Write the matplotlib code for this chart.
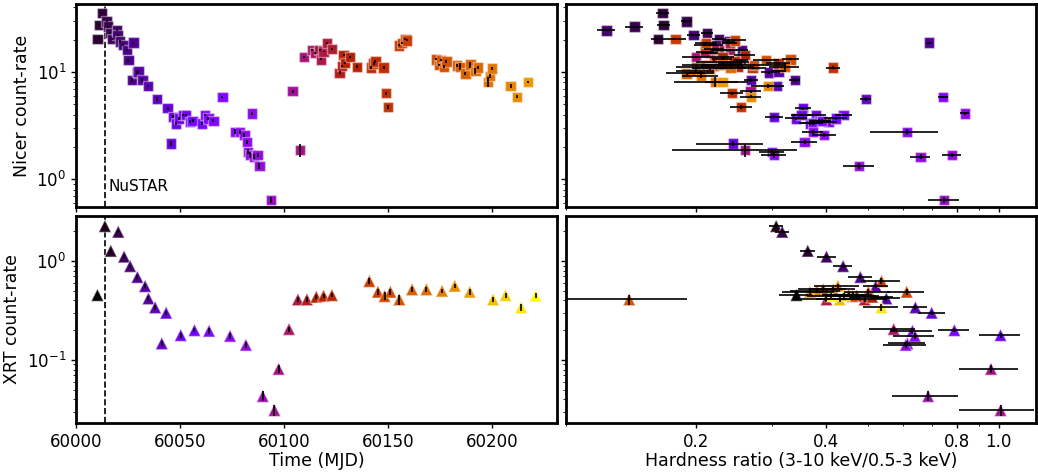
import numpy as np
import matplotlib.pyplot as plt
from matplotlib.colors import Normalize
from matplotlib.ticker import FixedLocator, NullFormatter

# NICER: time (MJD), count-rate, rate error, hardness ratio, HR error
nicer_t = [60010.4, 60011.1, 60012.4, 60014.7, 60015.5, 60016.3, 60017.2, 60019.6, 60020.0, 60021.2,
           60022.8, 60024.4, 60025.2, 60026.8, 60027.6, 60029.2, 60030.0, 60031.9, 60034.5, 60038.8,
           60044.0, 60045.5, 60046.8, 60047.9, 60049.5, 60051.6, 60053.0, 60054.8, 60056.0, 60060.4,
           60062.0, 60063.6, 60066.0, 60070.3, 60076.4, 60078.8, 60080.9, 60082.1, 60082.5, 60083.7,
           60084.5, 60085.6, 60087.2, 60088.1, 60093.8, 60104.0, 60107.7, 60109.6, 60113.3, 60114.9,
           60117.0, 60117.8, 60118.9, 60120.5, 60122.8, 60126.6, 60127.7, 60128.5, 60129.3, 60131.7,
           60134.9, 60141.7, 60142.9, 60143.8, 60147.7, 60148.9, 60149.8, 60155.0, 60156.6, 60158.2,
           60159.0, 60172.9, 60174.2, 60175.3, 60176.9, 60177.9, 60183.0, 60184.6, 60187.0, 60189.4,
           60191.8, 60192.9, 60197.9, 60198.7, 60199.9, 60208.7, 60211.9, 60217.0]
nicer_rate = [20.2, 27.4, 35.4, 29.6, 26.5, 23.0, 20.2, 24.4, 22.2, 19.2,
              17.9, 16.0, 12.9, 8.4, 18.8, 9.9, 10.1, 8.4, 7.4, 5.6,
              4.6, 2.15, 3.82, 3.31, 3.69, 3.97, 3.97, 3.43, 3.5, 3.31,
              3.97, 3.69, 3.5, 5.87, 2.77, 2.77, 2.58, 2.23, 1.80, 1.68,
              4.1, 1.62, 1.68, 1.33, 0.636, 6.6, 1.87, 13.8, 16.0, 15.1,
              16.0, 13.1, 15.5, 18.5, 16.3, 9.8, 11.4, 14.4, 12.1, 13.7,
              11.2, 10.98, 12.0, 12.5, 11.0, 6.36, 4.74, 17.7, 18.5, 20.2,
              19.7, 13.1, 11.6, 12.9, 11.2, 12.5, 11.5, 11.2, 9.7, 11.7,
              10.2, 11.0, 8.1, 9.2, 10.8, 7.45, 5.87, 8.1]
nicer_rate_err = [0.5, 0.6, 0.7, 0.6, 0.6, 0.5, 0.5, 0.5, 0.5, 0.5,
                  0.4, 0.4, 0.4, 0.3, 0.4, 0.3, 0.3, 0.3, 0.2, 0.2,
                  0.15, 0.1, 0.12, 0.12, 0.12, 0.12, 0.12, 0.12, 0.12, 0.12,
                  0.12, 0.12, 0.12, 0.15, 0.15, 0.12, 0.1, 0.1, 0.1, 0.1,
                  0.15, 0.08, 0.08, 0.08, 0.04, 0.2, 0.25, 0.3, 0.3, 0.3,
                  0.3, 0.3, 0.3, 0.4, 0.3, 0.3, 0.3, 0.3, 0.3, 0.3,
                  0.3, 0.3, 0.5, 0.4, 0.3, 0.2, 0.2, 0.4, 0.4, 0.4,
                  0.4, 0.3, 0.3, 0.3, 0.3, 0.3, 0.3, 0.8, 0.3, 0.8,
                  0.6, 0.3, 0.8, 0.4, 0.3, 0.3, 0.2, 0.2]
nicer_hr = [0.163, 0.168, 0.167, 0.190, 0.144, 0.212, 0.226, 0.124, 0.197, 0.238,
            0.222, 0.255, 0.254, 0.338, 0.690, 0.295, 0.310, 0.268, 0.307, 0.493,
            0.353, 0.243, 0.303, 0.366, 0.340, 0.350, 0.378, 0.404, 0.385, 0.372,
            0.438, 0.420, 0.390, 0.743, 0.614, 0.372, 0.395, 0.356, 0.299, 0.303,
            0.836, 0.660, 0.780, 0.476, 0.748, 0.267, 0.259, 0.200, 0.239, 0.215,
            0.225, 0.230, 0.210, 0.239, 0.220, 0.205, 0.220, 0.259, 0.240, 0.230,
            0.250, 0.270, 0.310, 0.245, 0.414, 0.242, 0.254, 0.210, 0.211, 0.179,
            0.246, 0.330, 0.272, 0.290, 0.200, 0.220, 0.210, 0.320, 0.190, 0.230,
            0.200, 0.240, 0.221, 0.205, 0.215, 0.293, 0.268, 0.230]
nicer_hr_err = [0.006, 0.006, 0.006, 0.006, 0.007, 0.007, 0.008, 0.006, 0.007, 0.008,
                0.008, 0.008, 0.009, 0.010, 0.010, 0.012, 0.012, 0.010, 0.012, 0.015,
                0.015, 0.043, 0.015, 0.020, 0.020, 0.018, 0.020, 0.020, 0.020, 0.020,
                0.020, 0.025, 0.020, 0.020, 0.110, 0.020, 0.025, 0.025, 0.020, 0.020,
                0.020, 0.035, 0.040, 0.040, 0.060, 0.015, 0.083, 0.015, 0.010, 0.010,
                0.010, 0.012, 0.010, 0.010, 0.012, 0.015, 0.015, 0.015, 0.015, 0.015,
                0.020, 0.020, 0.020, 0.020, 0.015, 0.015, 0.015, 0.012, 0.012, 0.010,
                0.015, 0.015, 0.050, 0.020, 0.020, 0.020, 0.025, 0.025, 0.020, 0.025,
                0.020, 0.020, 0.043, 0.020, 0.020, 0.025, 0.015, 0.020]

# Swift/XRT
xrt_t = [60010.3, 60013.9, 60016.7, 60020.3, 60023.1, 60026.0, 60029.5, 60033.2, 60034.8, 60038.0,
         60041.2, 60043.3, 60050.3, 60056.9, 60063.9, 60074.0, 60081.6, 60089.7, 60095.3, 60097.3,
         60102.3, 60106.6, 60110.9, 60115.4, 60118.9, 60122.9, 60140.9, 60145.0, 60148.2, 60151.0,
         60155.3, 60161.4, 60168.3, 60175.8, 60181.9, 60189.1, 60200.3, 60206.3, 60213.8, 60220.7]
xrt_rate = [0.453, 2.26, 1.27, 1.98, 1.11, 0.89, 0.69, 0.558, 0.419, 0.34,
            0.147, 0.30, 0.178, 0.20, 0.197, 0.175, 0.142, 0.043, 0.031, 0.081,
            0.205, 0.409, 0.409, 0.435, 0.445, 0.452, 0.627, 0.489, 0.442, 0.489,
            0.409, 0.517, 0.517, 0.50, 0.562, 0.489, 0.409, 0.452, 0.34, 0.445]
xrt_rate_err = [0.02, 0.08, 0.05, 0.07, 0.04, 0.03, 0.03, 0.025, 0.02, 0.02,
                0.01, 0.015, 0.01, 0.01, 0.012, 0.012, 0.01, 0.005, 0.004, 0.008,
                0.012, 0.02, 0.02, 0.02, 0.02, 0.02, 0.04, 0.03, 0.04, 0.03,
                0.05, 0.025, 0.025, 0.025, 0.025, 0.03, 0.025, 0.025, 0.025, 0.025]
xrt_hr = [0.341, 0.306, 0.362, 0.316, 0.400, 0.437, 0.479, 0.520, 0.550, 0.642,
          0.615, 0.700, 1.010, 0.790, 0.632, 0.640, 0.610, 0.687, 1.010, 0.960,
          0.572, 0.400, 0.490, 0.510, 0.470, 0.450, 0.536, 0.613, 0.460, 0.500,
          0.140, 0.393, 0.415, 0.380, 0.425, 0.366, 0.429, 0.440, 0.536, 0.410]
xrt_hr_err = [0.03, 0.012, 0.015, 0.012, 0.02, 0.022, 0.03, 0.035, 0.04, 0.04,
              0.06, 0.05, 0.11, 0.065, 0.07, 0.07, 0.07, 0.12, 0.2, 0.15,
              0.07, 0.05, 0.06, 0.06, 0.06, 0.06, 0.055, 0.06, 0.06, 0.06,
              0.05, 0.05, 0.05, 0.05, 0.05, 0.05, 0.05, 0.05, 0.05, 0.05]

nustar_t = 60013.9

cmap = plt.get_cmap('gnuplot')
norm_xrt = Normalize(vmin=60010.3, vmax=60220.7)
norm_nicer = Normalize(vmin=60002, vmax=60258)

plt.rcParams['font.size'] = 12
plt.rcParams['axes.linewidth'] = 2

fig = plt.figure(figsize=(10.38, 4.72), dpi=100)
ax_tl = fig.add_axes([0.0732, 0.5614, 0.4634, 0.4301])
ax_bl = fig.add_axes([0.0732, 0.1038, 0.4634, 0.4386], sharex=ax_tl)
ax_tr = fig.add_axes([0.5453, 0.5614, 0.4528, 0.4301], sharey=ax_tl)
ax_br = fig.add_axes([0.5453, 0.1038, 0.4528, 0.4386], sharey=ax_bl, sharex=ax_tr)


def draw(ax, x, y, xerr, yerr, t, norm, marker, size):
    ax.errorbar(x, y, xerr=xerr, yerr=yerr, fmt='none', ecolor='k', elinewidth=1.2, zorder=3)
    ax.scatter(x, y, c=t, cmap=cmap, norm=norm, marker=marker, s=size,
               edgecolors=(1, 1, 1, 0.4), linewidths=1, zorder=2)


draw(ax_tl, nicer_t, nicer_rate, None, nicer_rate_err, nicer_t, norm_nicer, 's', 55)
draw(ax_tr, nicer_hr, nicer_rate, nicer_hr_err, nicer_rate_err, nicer_t, norm_nicer, 's', 55)
draw(ax_bl, xrt_t, xrt_rate, None, xrt_rate_err, xrt_t, norm_xrt, '^', 80)
draw(ax_br, xrt_hr, xrt_rate, xrt_hr_err, xrt_rate_err, xrt_t, norm_xrt, '^', 80)

for ax in (ax_tl, ax_bl):
    ax.axvline(nustar_t, color='k', ls='--', lw=1.2, zorder=1)
ax_tl.text(nustar_t + 1.5, 0.86, 'NuSTAR', va='center', ha='left', fontsize=11)

ax_tl.set_yscale('log')
ax_bl.set_yscale('log')
ax_tl.set_ylim(0.55, 43)
ax_bl.set_ylim(0.023, 2.86)
ax_tl.set_xlim(60000, 60231)

ax_tr.set_xscale('log')
ax_tr.set_xlim(0.1, 1.22)
ax_br.xaxis.set_major_locator(FixedLocator([0.2, 0.4, 0.8, 1.0]))
ax_br.xaxis.set_major_formatter(plt.FixedFormatter(['0.2', '0.4', '0.8', '1.0']))
ax_br.xaxis.set_minor_locator(FixedLocator([0.1, 0.3, 0.5, 0.6, 0.7, 0.9]))
ax_br.xaxis.set_minor_formatter(NullFormatter())

plt.setp(ax_tl.get_xticklabels(), visible=False)
plt.setp(ax_tr.get_xticklabels(), visible=False)
plt.setp(ax_tr.get_yticklabels(), visible=False)
plt.setp(ax_br.get_yticklabels(), visible=False)

ax_tl.set_ylabel('Nicer count-rate', fontsize=12.5)
ax_bl.set_ylabel('XRT count-rate', fontsize=12.5)
ax_bl.set_xlabel('Time (MJD)', fontsize=12.5, labelpad=1)
ax_br.set_xlabel('Hardness ratio (3-10 keV/0.5-3 keV)', fontsize=12.5, labelpad=1)

for ax in (ax_tl, ax_bl, ax_tr, ax_br):
    ax.tick_params(width=1, labelsize=12)

fig.savefig('out.png', dpi=100)
